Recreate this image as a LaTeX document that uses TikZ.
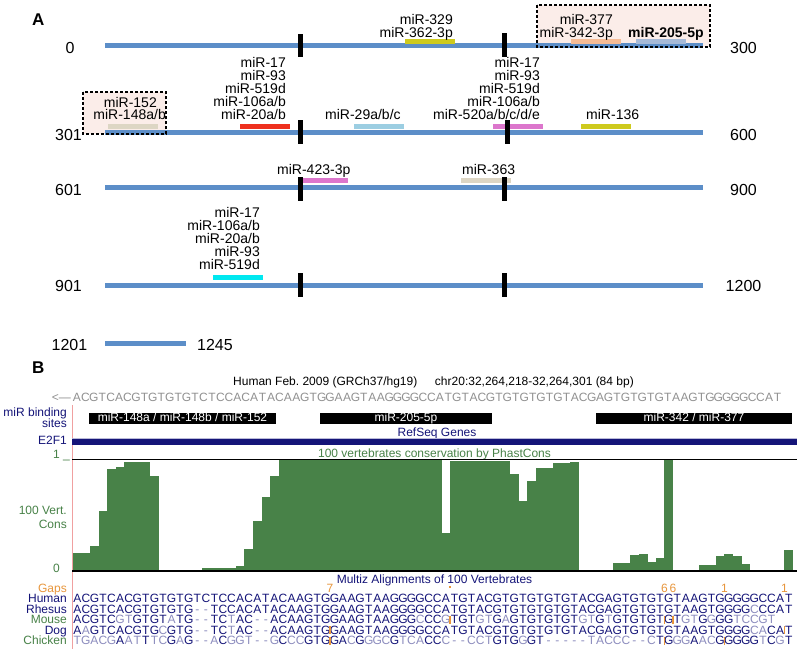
\documentclass[tikz,border=0pt]{standalone}
\usepackage{fontspec}
\setmainfont{Liberation Sans}
\frenchspacing
\definecolor{mirblue}{RGB}{92,142,200}
\definecolor{boxpink}{RGB}{251,237,233}
\definecolor{baryellow}{RGB}{206,202,30}
\definecolor{barsalmon}{RGB}{246,188,150}
\definecolor{barsteel}{RGB}{166,186,216}
\definecolor{barbeige}{RGB}{221,214,196}
\definecolor{barred}{RGB}{238,48,30}
\definecolor{barlblue}{RGB}{156,206,226}
\definecolor{barmag}{RGB}{220,118,204}
\definecolor{barcyan}{RGB}{0,232,240}
\definecolor{seqdark}{RGB}{20,20,120}
\definecolor{seqlight}{RGB}{140,140,190}
\definecolor{seqgray}{RGB}{145,145,145}
\definecolor{consgreen}{RGB}{72,130,72}
\definecolor{gaporange}{RGB}{232,150,60}
\definecolor{sepred}{RGB}{240,160,160}

\ExplSyntaxOn
\str_new:N \l_my_a_str
\str_new:N \l_my_b_str
\str_new:N \l_my_ref_str
\str_new:N \l_my_seq_str
\tl_new:N \l_my_c_tl
\tl_new:N \l_my_x_tl
\cs_new_protected:Npn \my_seqrow:nnnnnnn #1#2#3#4#5#6#7
  {
    \str_set:Nx \l_my_ref_str {#2}
    \str_set:Nx \l_my_seq_str {#3}
    \int_step_inline:nn { \str_count:N \l_my_seq_str }
      {
        \str_set:Nx \l_my_a_str { \str_item:Nn \l_my_seq_str {##1} }
        \str_set:Nx \l_my_b_str { \str_item:Nn \l_my_ref_str {##1} }
        \str_if_eq:NNTF \l_my_a_str \l_my_b_str
          { \tl_set:Nn \l_my_c_tl {#6} }
          { \tl_set:Nn \l_my_c_tl {#7} }
        \tl_set:Nx \l_my_x_tl { \fp_eval:n { #4 + #5 * (##1 - 0.5) } }
        \SeqChar { \l_my_c_tl } { \l_my_x_tl } {#1} { \l_my_a_str }
      }
  }
\NewDocumentCommand \SeqRow { m m m m m m m }
  { \my_seqrow:nnnnnnn {#1} {#2} {#3} {#4} {#5} {#6} {#7} }
\ExplSyntaxOff
\newcommand\SeqChar[4]{\node[seqch,text=#1] at (#2,#3) {#4};}
\newcommand\HumanSeq{ACGTCACGTGTGTGTCTCCACATACAAGTGGAAGTAAGGGGCCATGTACGTGTGTGTGTACGAGTGTGTGTAAGTGGGGGCCAT}

\tikzset{
  lab/.style={font=\fontsize{14}{14}\selectfont, inner sep=0pt},
  num/.style={font=\fontsize{16}{16}\selectfont, inner sep=0pt},
  blab/.style={font=\fontsize{12}{12}\selectfont, inner sep=0pt},
  seqch/.style={font=\fontsize{12}{12}\selectfont, inner sep=0pt, anchor=base},
  mline/.style={line width=5pt, draw=mirblue},
  mbar/.style={line width=5pt},
  tickmark/.style={fill=black},
  dbox/.style={draw=black, line width=1.1pt, dash pattern=on 3pt off 2pt},
  blackbox/.style={fill=black},
  gaptick/.style={draw=gaporange, line width=1.3pt},
}

\begin{document}
\begin{tikzpicture}[x=1pt,y=-1pt]
\useasboundingbox (0,0) rectangle (799,649);
\fill[white] (0,0) rectangle (799,649);

% ================= Panel A =================
\node[font=\bfseries\fontsize{17}{17}\selectfont, anchor=base west, inner sep=0pt] (labA) at (32,25.7) {A};

\fill[boxpink] (537,5) rectangle (710,47);
\fill[boxpink] (83,92) rectangle (166,134);

\draw[mline] (105,45.8) -- (703,45.8);
\draw[mline] (105,132.5) -- (703,132.5);
\draw[mline] (105,187.5) -- (703,187.5);
\draw[mline] (105,285) -- (703,285);
\draw[mline] (105,343) -- (186,343);

% bars
\draw[mbar, baryellow] (405,41.8) -- (455,41.8);
\draw[mbar, barsalmon] (571,41.8) -- (621,41.8);
\draw[mbar, barsteel] (636,41.8) -- (686,41.8);
\draw[mbar, barbeige] (108,126.7) -- (158,126.7);
\draw[mbar, barred] (240,126.7) -- (290,126.7);
\draw[mbar, barlblue] (354,126.7) -- (404,126.7);
\draw[mbar, barmag] (493,126.7) -- (543,126.7);
\draw[mbar, baryellow] (581,126.7) -- (631,126.7);
\draw[mbar, barmag] (302,180.8) -- (348,180.8);
\draw[mbar, barbeige] (461,180.8) -- (511,180.8);
\draw[mbar, barcyan] (213,277.5) -- (263,277.5);

% ticks
\fill[tickmark] (297.7,34.3) rectangle (302.7,57.3);
\fill[tickmark] (501.7,33.3) rectangle (506.7,56.7);
\fill[tickmark] (297.7,120) rectangle (302.7,144);
\fill[tickmark] (505,120) rectangle (510,144);
\fill[tickmark] (297.7,176.7) rectangle (302.7,200.7);
\fill[tickmark] (501.7,176.7) rectangle (506.7,200.7);
\fill[tickmark] (297.7,273.3) rectangle (302.7,297.3);
\fill[tickmark] (501.7,273.3) rectangle (506.7,297.3);

\draw[dbox] (537,5) rectangle (710,47);
\draw[dbox] (83,92) rectangle (166,134);

% labels row 1
\node[lab, anchor=base east] (l329) at (453,24.5) {miR-329};
\node[lab, anchor=base east] (l362) at (453,37.5) {miR-362-3p};
\node[lab, anchor=base east] (l377) at (613,24.5) {miR-377};
\node[lab, anchor=base east] (l342) at (613,37.5) {miR-342-3p};
\node[lab, anchor=base west, font=\bfseries\fontsize{14}{14}\selectfont] (l205) at (628,37.5) {miR-205-5p};
% row 2
\node[lab, anchor=base east] (l152) at (157,107) {miR-152};
\node[lab, anchor=base east] (l148) at (166,119.5) {miR-148a/b};
\foreach \t [count=\i] in {miR-17,miR-93,miR-519d,miR-106a/b,miR-20a/b}
  \node[lab, anchor=base east] (ra\i) at (286,{54+13*\i}) {\t};
\node[lab, anchor=base west] (l29) at (325,119) {miR-29a/b/c};
\foreach \t [count=\i] in {miR-17,miR-93,miR-519d,miR-106a/b,miR-520a/b/c/d/e}
  \node[lab, anchor=base east] (rb\i) at (540,{54+13*\i}) {\t};
\node[lab, anchor=base west] (l136) at (586,119) {miR-136};
% row 3
\node[lab, anchor=base west] (l423) at (277,174) {miR-423-3p};
\node[lab, anchor=base west] (l363) at (462,174) {miR-363};
% row 4
\foreach \t [count=\i] in {miR-17,miR-106a/b,miR-20a/b,miR-93,miR-519d}
  \node[lab, anchor=base east] (rc\i) at (260,{204+13*\i}) {\t};

% numbers
\node[num, anchor=base] (n0) at (70,53.5) {0};
\node[num, anchor=base] (n300) at (743.5,53.5) {300};
\node[num, anchor=base] (n301) at (68.5,140) {301};
\node[num, anchor=base] (n600) at (743.5,140) {600};
\node[num, anchor=base] (n601) at (68.5,195) {601};
\node[num, anchor=base] (n900) at (743.5,195) {900};
\node[num, anchor=base] (n901) at (68.5,291.7) {901};
\node[num, anchor=base] (n1200) at (743.5,291.7) {1200};
\node[num, anchor=base] (n1201) at (69.5,350) {1201};
\node[num, anchor=base west] (n1245) at (197,350) {1245};

% ================= Panel B =================
\node[font=\bfseries\fontsize{17}{17}\selectfont, anchor=base west, inner sep=0pt] (labB) at (32,373) {B};
\node[blab, anchor=base west] (hdr1) at (233,385.5) {Human Feb. 2009 (GRCh37/hg19)};
\node[blab, anchor=base east] (hdr2) at (634,385.5) {chr20:32,264,218-32,264,301 (84 bp)};
\node[blab, anchor=base east, text=seqgray] (arrowtxt) at (71,401.5) {<---};
\SeqRow{401.5}{\HumanSeq}{\HumanSeq}{72.7}{8.44}{seqgray}{seqgray}

\draw[sepred, line width=0.8pt] (72,405) -- (72,649);

\node[blab, anchor=base east, text=seqdark] (mbs1) at (67,416) {miR binding};
\node[blab, anchor=base east, text=seqdark] (mbs2) at (67,427) {sites};
\fill[blackbox] (89,412.5) rectangle (276,423.5);
\fill[blackbox] (320,412.5) rectangle (492,423.5);
\fill[blackbox] (596,412.5) rectangle (792,423.5);
\node[blab, anchor=base, text=white] (bb1) at (182.5,421.8) {miR-148a / miR-148b / miR-152};
\node[blab, anchor=base, text=white] (bb2) at (406,421.8) {miR-205-5p};
\node[blab, anchor=base, text=white] (bb3) at (694,421.8) {miR-342 / miR-377};

\node[blab, anchor=base, text=seqdark] (refseq) at (437,436) {RefSeq Genes};
\draw[seqlight!60, line width=0.6pt] (72,438) -- (797,438);
\fill[seqdark] (72,439) rectangle (797,445);
\node[blab, anchor=base east, text=seqdark] (e2f1) at (67,444) {E2F1};

% conservation
\node[blab, anchor=base east, text=consgreen] (one) at (70,458) {1 \_};
\node[blab, anchor=base, text=consgreen] (constitle) at (434.5,457) {100 vertebrates conservation by PhastCons};
\foreach \k/\v in {0/553,1/553,2/546,3/511,4/469,5/467,6/462,7/462,8/462,9/476,
  13/569.5,14/569.5,15/568,16/568,17/568,18/568,19/566,20/549,21/521,22/497,23/476,
  24/460,25/460,26/460,27/460,28/460,29/460,30/460,31/460,32/460,33/460,34/460,35/460,
  36/460,37/460,38/460,39/460,40/460,41/460,42/460,43/533,44/461,45/461,46/461,47/461,
  48/461,49/461,50/461,51/474,52/501,53/481,54/468,55/468,56/463,57/463,58/462,
  63/563,64/563,65/555,66/554,67/562,68/558,69/460,73/565,74/565,75/556,76/554,77/556,
  78/564,83/550}
  \fill[consgreen] ({73+8.571*\k},\v) rectangle ({73+8.571*(\k+1)+0.3},571);
\draw[black, line width=1.5pt] (72,459.5) -- (797,459.5);
\draw[black, line width=1.2pt] (72,571) -- (797,571);
\node[blab, anchor=base east, text=consgreen] (vert1) at (67,514) {100 Vert.};
\node[blab, anchor=base east, text=consgreen] (vert2) at (67,528) {Cons};
\node[blab, anchor=base east, text=consgreen] (zero) at (60,572) {0};

% alignments
\node[blab, anchor=base, text=seqdark] (multiz) at (434.5,583) {Multiz Alignments of 100 Vertebrates};
\node[blab, anchor=base east, text=gaporange] (gaps) at (67,592) {Gaps};
\node[blab, anchor=base, text=gaporange] (g7) at (330,592) {7};
\fill[gaporange] (449.3,585.5) rectangle (450.8,588);
\node[blab, anchor=base, text=gaporange] (g6a) at (664.4,592) {6};
\node[blab, anchor=base, text=gaporange] (g6b) at (673,592) {6};
\node[blab, anchor=base, text=gaporange] (g1a) at (724.4,592) {1};
\node[blab, anchor=base, text=gaporange] (g1b) at (784.4,592) {1};

\node[blab, anchor=base east, text=seqdark] (sp1) at (67,602.5) {Human};
\node[blab, anchor=base east, text=seqdark] (sp2) at (67,613) {Rhesus};
\node[blab, anchor=base east, text=consgreen] (sp3) at (67,623.5) {Mouse};
\node[blab, anchor=base east, text=seqdark] (sp4) at (67,634) {Dog};
\node[blab, anchor=base east, text=consgreen] (sp5) at (67,644.5) {Chicken};

\SeqRow{602.5}{\HumanSeq}{\HumanSeq}{73}{8.571}{seqdark}{seqlight}
\SeqRow{613}{\HumanSeq}{ACGTCACGTGTGTG--TCCACATACAAGTGGAAGTAAGGGGCCATGTACGTGTGTGTGTACGAGTGTGTGTAAGTGGGGCCCAT}{73}{8.571}{seqdark}{seqlight}
\SeqRow{623.5}{\HumanSeq}{ACGTCGTGTGTATG--TCTAC--ACAAGTGGAAGTAAGGGCCCGTGTGTGAGTGTGTGTGTGTGTGTGTGTGTGGGGTCCGT}{73}{8.571}{seqdark}{seqlight}
\SeqRow{634}{\HumanSeq}{AAGTCACGTGCGTG--TCTAC--ACAAGTGGAAGTAAGGGGCCATGTACGTGTGTGTGTACGAGTGTGTGTAAGTGGGGCACAT}{73}{8.571}{seqdark}{seqlight}
\SeqRow{644.5}{\HumanSeq}{TGACGAATTTCGAG--ACGGT--GCCCGTGGACGGGCGTCACCC--CCTGTGGGT-----TACCC--CTGGGAACGGGGGTCGT}{73}{8.571}{seqdark}{seqlight}

% insertion ticks
\draw[gaptick] (450,615.5) -- (450,623.5);
\draw[gaptick] (664.4,615.5) -- (664.4,623.5);
\draw[gaptick] (673,615.5) -- (673,623.5);
\draw[gaptick] (330,626) -- (330,634);
\draw[gaptick] (784.4,626) -- (784.4,634);
\draw[gaptick] (330,636.5) -- (330,644.5);
\draw[gaptick] (664.4,636.5) -- (664.4,644.5);
\draw[gaptick] (724.4,636.5) -- (724.4,644.5);
\end{tikzpicture}
\end{document}
